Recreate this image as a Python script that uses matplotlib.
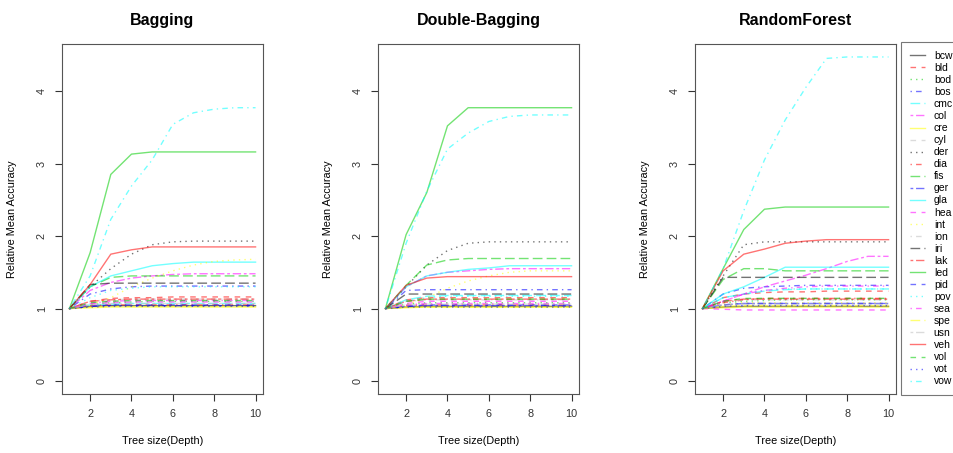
import matplotlib.pyplot as plt
from matplotlib.lines import Line2D

plt.rcParams['font.family'] = ['Liberation Sans', 'DejaVu Sans']

# ---------- data ----------

depth = [1, 2, 3, 4, 5, 6, 7, 8, 9, 10]

datasets = ["bcw", "bld", "bod", "bos", "cmc", "col", "cre", "cyl", "der", "dia",
            "fis", "ger", "gla", "hea", "int", "ion", "iri", "lak", "led", "pid",
            "pov", "sea", "spe", "usn", "veh", "vol", "vot", "vow"]

bagging = {
    "bcw": [1.0, 1.03, 1.04, 1.04, 1.04, 1.04, 1.04, 1.04, 1.04, 1.04],
    "bld": [1.0, 1.10, 1.14, 1.15, 1.15, 1.16, 1.16, 1.16, 1.16, 1.16],
    "bod": [1.0, 1.05, 1.08, 1.09, 1.10, 1.10, 1.10, 1.10, 1.10, 1.10],
    "bos": [1.0, 1.20, 1.27, 1.30, 1.31, 1.31, 1.31, 1.31, 1.31, 1.31],
    "cmc": [1.0, 1.05, 1.06, 1.07, 1.07, 1.07, 1.07, 1.07, 1.07, 1.07],
    "col": [1.0, 1.25, 1.36, 1.42, 1.45, 1.47, 1.48, 1.48, 1.48, 1.48],
    "cre": [1.0, 1.01, 1.02, 1.02, 1.02, 1.02, 1.02, 1.02, 1.02, 1.02],
    "cyl": [1.0, 1.08, 1.10, 1.11, 1.11, 1.11, 1.11, 1.11, 1.11, 1.11],
    "der": [1.0, 1.30, 1.55, 1.75, 1.88, 1.92, 1.93, 1.93, 1.93, 1.93],
    "dia": [1.0, 1.04, 1.05, 1.05, 1.05, 1.05, 1.05, 1.05, 1.05, 1.05],
    "fis": [1.0, 1.30, 1.43, 1.45, 1.45, 1.45, 1.45, 1.45, 1.45, 1.45],
    "ger": [1.0, 1.03, 1.04, 1.04, 1.04, 1.04, 1.04, 1.04, 1.04, 1.04],
    "gla": [1.0, 1.30, 1.45, 1.52, 1.59, 1.62, 1.64, 1.64, 1.64, 1.64],
    "hea": [1.0, 1.06, 1.08, 1.09, 1.09, 1.09, 1.09, 1.09, 1.09, 1.09],
    "int": [1.0, 1.05, 1.15, 1.30, 1.42, 1.52, 1.60, 1.65, 1.67, 1.68],
    "ion": [1.0, 1.10, 1.12, 1.13, 1.13, 1.13, 1.13, 1.13, 1.13, 1.13],
    "iri": [1.0, 1.33, 1.35, 1.35, 1.35, 1.35, 1.35, 1.35, 1.35, 1.35],
    "lak": [1.0, 1.10, 1.12, 1.13, 1.13, 1.13, 1.13, 1.13, 1.13, 1.13],
    "led": [1.0, 1.77, 2.85, 3.13, 3.16, 3.16, 3.16, 3.16, 3.16, 3.16],
    "pid": [1.0, 1.03, 1.05, 1.05, 1.05, 1.05, 1.05, 1.05, 1.05, 1.05],
    "pov": [1.0, 1.15, 1.25, 1.28, 1.30, 1.30, 1.30, 1.30, 1.30, 1.30],
    "sea": [1.0, 1.07, 1.10, 1.11, 1.11, 1.11, 1.11, 1.11, 1.11, 1.11],
    "spe": [1.0, 1.02, 1.03, 1.03, 1.03, 1.03, 1.03, 1.03, 1.03, 1.03],
    "usn": [1.0, 1.05, 1.07, 1.07, 1.07, 1.07, 1.07, 1.07, 1.07, 1.07],
    "veh": [1.0, 1.33, 1.75, 1.81, 1.85, 1.85, 1.85, 1.85, 1.85, 1.85],
    "vol": [1.0, 1.08, 1.10, 1.11, 1.11, 1.11, 1.11, 1.11, 1.11, 1.11],
    "vot": [1.0, 1.02, 1.03, 1.03, 1.03, 1.03, 1.03, 1.03, 1.03, 1.03],
    "vow": [1.0, 1.45, 2.23, 2.69, 3.05, 3.54, 3.70, 3.75, 3.77, 3.77],
}

double_bagging = {
    "bcw": [1.0, 1.02, 1.03, 1.03, 1.03, 1.03, 1.03, 1.03, 1.03, 1.03],
    "bld": [1.0, 1.12, 1.15, 1.15, 1.15, 1.15, 1.15, 1.15, 1.15, 1.15],
    "bod": [1.0, 1.06, 1.08, 1.08, 1.08, 1.08, 1.08, 1.08, 1.08, 1.08],
    "bos": [1.0, 1.25, 1.26, 1.26, 1.26, 1.26, 1.26, 1.26, 1.26, 1.26],
    "cmc": [1.0, 1.12, 1.17, 1.18, 1.18, 1.18, 1.18, 1.18, 1.18, 1.18],
    "col": [1.0, 1.30, 1.45, 1.50, 1.52, 1.54, 1.55, 1.55, 1.55, 1.55],
    "cre": [1.0, 1.01, 1.02, 1.02, 1.02, 1.02, 1.02, 1.02, 1.02, 1.02],
    "cyl": [1.0, 1.10, 1.12, 1.12, 1.12, 1.12, 1.12, 1.12, 1.12, 1.12],
    "der": [1.0, 1.30, 1.60, 1.80, 1.90, 1.92, 1.92, 1.92, 1.92, 1.92],
    "dia": [1.0, 1.04, 1.05, 1.05, 1.05, 1.05, 1.05, 1.05, 1.05, 1.05],
    "fis": [1.0, 1.32, 1.60, 1.67, 1.69, 1.69, 1.69, 1.69, 1.69, 1.69],
    "ger": [1.0, 1.03, 1.04, 1.04, 1.04, 1.04, 1.04, 1.04, 1.04, 1.04],
    "gla": [1.0, 1.30, 1.45, 1.50, 1.54, 1.56, 1.59, 1.59, 1.59, 1.59],
    "hea": [1.0, 1.07, 1.10, 1.10, 1.10, 1.10, 1.10, 1.10, 1.10, 1.10],
    "int": [1.0, 1.05, 1.15, 1.28, 1.38, 1.45, 1.50, 1.52, 1.52, 1.52],
    "ion": [1.0, 1.10, 1.12, 1.12, 1.12, 1.12, 1.12, 1.12, 1.12, 1.12],
    "iri": [1.0, 1.20, 1.20, 1.20, 1.20, 1.20, 1.20, 1.20, 1.20, 1.20],
    "lak": [1.0, 1.10, 1.13, 1.13, 1.13, 1.13, 1.13, 1.13, 1.13, 1.13],
    "led": [1.0, 2.02, 2.60, 3.52, 3.77, 3.77, 3.77, 3.77, 3.77, 3.77],
    "pid": [1.0, 1.03, 1.05, 1.05, 1.05, 1.05, 1.05, 1.05, 1.05, 1.05],
    "pov": [1.0, 1.10, 1.15, 1.17, 1.17, 1.17, 1.17, 1.17, 1.17, 1.17],
    "sea": [1.0, 1.05, 1.07, 1.07, 1.07, 1.07, 1.07, 1.07, 1.07, 1.07],
    "spe": [1.0, 1.02, 1.02, 1.02, 1.02, 1.02, 1.02, 1.02, 1.02, 1.02],
    "usn": [1.0, 1.05, 1.06, 1.06, 1.06, 1.06, 1.06, 1.06, 1.06, 1.06],
    "veh": [1.0, 1.32, 1.42, 1.44, 1.44, 1.44, 1.44, 1.44, 1.44, 1.44],
    "vol": [1.0, 1.10, 1.13, 1.13, 1.13, 1.13, 1.13, 1.13, 1.13, 1.13],
    "vot": [1.0, 1.02, 1.02, 1.02, 1.02, 1.02, 1.02, 1.02, 1.02, 1.02],
    "vow": [1.0, 1.90, 2.62, 3.20, 3.42, 3.58, 3.65, 3.67, 3.67, 3.67],
}

random_forest = {
    "bcw": [1.0, 1.02, 1.03, 1.03, 1.03, 1.03, 1.03, 1.03, 1.03, 1.03],
    "bld": [1.0, 1.15, 1.20, 1.22, 1.23, 1.23, 1.24, 1.24, 1.24, 1.24],
    "bod": [1.0, 1.08, 1.10, 1.11, 1.12, 1.12, 1.12, 1.12, 1.12, 1.12],
    "bos": [1.0, 1.20, 1.28, 1.30, 1.31, 1.32, 1.32, 1.32, 1.32, 1.32],
    "cmc": [1.0, 1.15, 1.20, 1.24, 1.26, 1.27, 1.27, 1.27, 1.27, 1.27],
    "col": [1.0, 1.10, 1.20, 1.30, 1.38, 1.46, 1.55, 1.65, 1.72, 1.72],
    "cre": [1.0, 1.01, 1.02, 1.02, 1.02, 1.02, 1.02, 1.02, 1.02, 1.02],
    "cyl": [1.0, 1.10, 1.13, 1.14, 1.14, 1.14, 1.14, 1.14, 1.14, 1.14],
    "der": [1.0, 1.45, 1.88, 1.92, 1.92, 1.92, 1.92, 1.92, 1.92, 1.92],
    "dia": [1.0, 1.08, 1.12, 1.14, 1.14, 1.14, 1.14, 1.14, 1.14, 1.14],
    "fis": [1.0, 1.40, 1.55, 1.55, 1.52, 1.52, 1.52, 1.52, 1.52, 1.52],
    "ger": [1.0, 1.05, 1.07, 1.07, 1.07, 1.07, 1.07, 1.07, 1.07, 1.07],
    "gla": [1.0, 1.20, 1.30, 1.43, 1.57, 1.57, 1.57, 1.57, 1.57, 1.57],
    "hea": [1.0, 0.99, 0.98, 0.98, 0.98, 0.98, 0.98, 0.98, 0.98, 0.98],
    "int": [1.0, 1.05, 1.08, 1.08, 1.08, 1.08, 1.08, 1.08, 1.08, 1.08],
    "ion": [1.0, 1.10, 1.12, 1.12, 1.12, 1.12, 1.12, 1.12, 1.12, 1.12],
    "iri": [1.0, 1.43, 1.43, 1.43, 1.43, 1.43, 1.43, 1.43, 1.43, 1.43],
    "lak": [1.0, 1.10, 1.13, 1.13, 1.13, 1.13, 1.13, 1.13, 1.13, 1.13],
    "led": [1.0, 1.55, 2.09, 2.37, 2.40, 2.40, 2.40, 2.40, 2.40, 2.40],
    "pid": [1.0, 1.05, 1.07, 1.07, 1.07, 1.07, 1.07, 1.07, 1.07, 1.07],
    "pov": [1.0, 1.15, 1.20, 1.25, 1.27, 1.27, 1.27, 1.27, 1.27, 1.27],
    "sea": [1.0, 1.10, 1.20, 1.25, 1.28, 1.30, 1.31, 1.31, 1.31, 1.31],
    "spe": [1.0, 1.03, 1.04, 1.04, 1.04, 1.04, 1.04, 1.04, 1.04, 1.04],
    "usn": [1.0, 1.05, 1.06, 1.06, 1.06, 1.06, 1.06, 1.06, 1.06, 1.06],
    "veh": [1.0, 1.52, 1.75, 1.82, 1.90, 1.93, 1.95, 1.95, 1.95, 1.95],
    "vol": [1.0, 1.10, 1.14, 1.14, 1.14, 1.14, 1.14, 1.14, 1.14, 1.14],
    "vot": [1.0, 1.03, 1.04, 1.04, 1.04, 1.04, 1.04, 1.04, 1.04, 1.04],
    "vow": [1.0, 1.55, 2.35, 3.05, 3.60, 4.05, 4.45, 4.47, 4.47, 4.47],
}

panels = [("Bagging", bagging), ("Double-Bagging", double_bagging),
          ("RandomForest", random_forest)]

# ---------- styles (R palette / lty cycle) ----------

palette = ["black", "#FF0000", "#00CD00", "#0000FF", "#00FFFF", "#FF00FF",
           "#FFFF00", "#BEBEBE"]
ltys = ["-", (0, (4, 4)), (0, (1, 3)), (0, (1, 3, 4, 3)), (0, (7, 3)),
        (0, (2, 2, 6, 2))]


def series_style(i):
    # the last four datasets restart the colour cycle at red
    color = palette[i % 8] if i < 24 else palette[(i - 24) % 7 + 1]
    return color, ltys[i % 6]


# ---------- figure ----------

W, H = 954, 453
fig = plt.figure(figsize=(W / 100, H / 100), dpi=100)

lefts = [62, 378, 695]
ymax = max(max(v) for _, d in panels for v in d.values())

for left, (title, data) in zip(lefts, panels):
    ax = fig.add_axes([left / W, 1 - 394 / H, 201 / W, 350 / H])
    for i, name in enumerate(datasets):
        color, ls = series_style(i)
        ax.plot(depth, data[name], color=color, linestyle=ls, lw=1.0, alpha=0.55)

    ax.set_xlim(0.64, 10.36)
    ax.set_ylim(-0.04 * ymax, ymax * 1.04)
    ax.set_xticks([2, 4, 6, 8, 10])
    ax.set_yticks([0, 1, 2, 3, 4])
    ax.tick_params(direction="out", length=5, width=0.8, colors="#333333",
                   labelsize=7.8, pad=6)
    for lab in ax.get_yticklabels():
        lab.set_rotation(90)
        lab.set_va("center")
    for sp in ax.spines.values():
        sp.set_color("#555555")
        sp.set_linewidth(0.8)

    ax.set_title(title, fontsize=11.5, fontweight="bold", pad=14)
    ax.set_xlabel("Tree size(Depth)", fontsize=7.8, labelpad=12)
    ax.set_ylabel("Relative Mean Accuracy", fontsize=7.8, labelpad=14)

handles = []
for i, name in enumerate(datasets):
    color, ls = series_style(i)
    handles.append(Line2D([], [], color=color, linestyle=ls, lw=1.0, alpha=0.55))

leg = fig.legend(handles, datasets, loc="upper left",
                 bbox_to_anchor=(901 / W, 1 - 42 / H), fontsize=7.5,
                 frameon=True, fancybox=False, edgecolor="#555555",
                 handlelength=1.5, handletextpad=0.8, labelspacing=0.197,
                 borderpad=0.85, borderaxespad=0)
leg.get_frame().set_linewidth(0.8)

fig.savefig("out.png", dpi=100)
